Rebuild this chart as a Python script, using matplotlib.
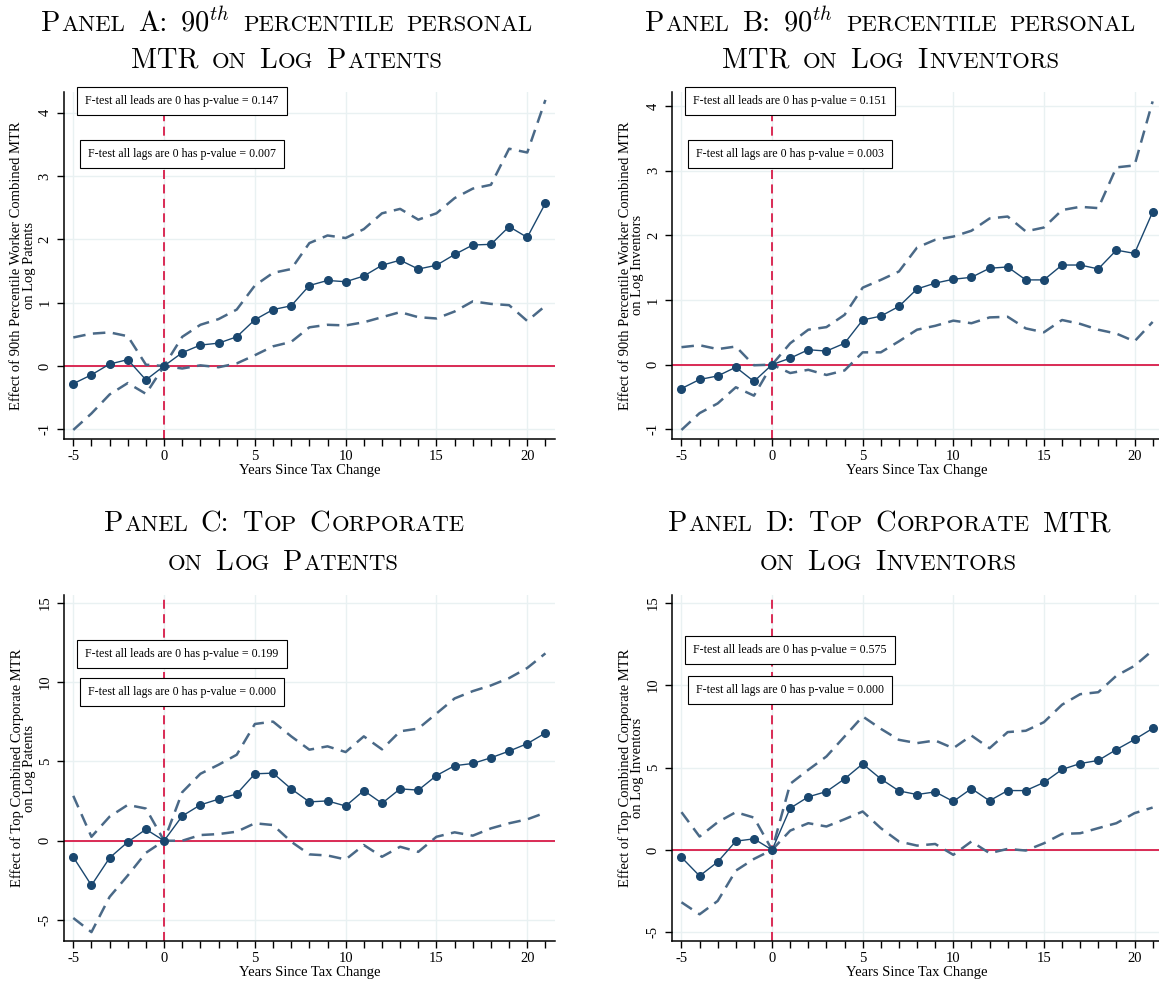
import matplotlib
matplotlib.use("Agg")
import matplotlib.pyplot as plt
from matplotlib.ticker import MultipleLocator
from matplotlib.transforms import IdentityTransform

plt.rcParams['font.family'] = ['Liberation Serif', 'DejaVu Serif']
plt.rcParams['axes.unicode_minus'] = False

years = list(range(-5, 22))

# Panel A: 90th pct personal MTR on log patents
a_coef = [-0.28, -0.14, 0.03, 0.10, -0.22, 0.0, 0.21, 0.33, 0.36, 0.46, 0.73, 0.89, 0.95, 1.27,
          1.35, 1.33, 1.42, 1.59, 1.67, 1.53, 1.59, 1.76, 1.91, 1.92, 2.20, 2.03, 2.57]
a_hi = [0.45, 0.51, 0.53, 0.47, 0.02, 0.0, 0.46, 0.65, 0.74, 0.89, 1.27, 1.47, 1.53, 1.94,
        2.06, 2.02, 2.16, 2.41, 2.48, 2.31, 2.41, 2.65, 2.80, 2.86, 3.43, 3.37, 4.20]
a_lo = [-1.01, -0.75, -0.45, -0.27, -0.44, 0.0, -0.04, 0.01, -0.02, 0.04, 0.17, 0.31, 0.38, 0.61,
        0.65, 0.64, 0.69, 0.77, 0.85, 0.77, 0.75, 0.86, 1.02, 0.98, 0.96, 0.71, 0.95]

# Panel B: 90th pct personal MTR on log inventors
b_coef = [-0.37, -0.23, -0.175, -0.04, -0.26, 0.0, 0.10, 0.23, 0.21, 0.33, 0.69, 0.75, 0.90, 1.17,
          1.26, 1.32, 1.35, 1.49, 1.51, 1.31, 1.31, 1.54, 1.54, 1.48, 1.77, 1.72, 2.36]
b_hi = [0.27, 0.30, 0.24, 0.28, -0.01, 0.0, 0.33, 0.54, 0.58, 0.77, 1.19, 1.31, 1.44, 1.81,
        1.93, 1.98, 2.07, 2.26, 2.29, 2.06, 2.12, 2.39, 2.44, 2.42, 3.05, 3.08, 4.07]
b_lo = [-1.01, -0.75, -0.60, -0.35, -0.48, 0.0, -0.13, -0.08, -0.16, -0.09, 0.19, 0.19, 0.36, 0.54,
        0.60, 0.68, 0.64, 0.73, 0.74, 0.56, 0.50, 0.69, 0.63, 0.54, 0.48, 0.36, 0.66]

# Panel C: top corporate MTR on log patents
c_coef = [-1.03, -2.81, -1.08, -0.08, 0.72, 0.0, 1.56, 2.26, 2.62, 2.95, 4.22, 4.26, 3.27, 2.45,
          2.51, 2.19, 3.16, 2.36, 3.27, 3.19, 4.11, 4.73, 4.87, 5.23, 5.65, 6.12, 6.79]
c_hi = [2.83, 0.25, 1.52, 2.26, 2.03, 0.0, 3.06, 4.22, 4.79, 5.42, 7.36, 7.51, 6.58, 5.74,
        5.95, 5.59, 6.58, 5.76, 6.90, 7.07, 8.02, 8.97, 9.43, 9.79, 10.25, 10.89, 11.81]
c_lo = [-4.87, -5.76, -3.54, -2.19, -0.76, 0.0, 0.0, 0.36, 0.42, 0.57, 1.10, 0.99, -0.06, -0.86,
        -0.93, -1.18, -0.27, -1.01, -0.38, -0.70, 0.25, 0.53, 0.32, 0.78, 1.10, 1.35, 1.77]

# Panel D: top corporate MTR on log inventors
d_coef = [-0.45, -1.58, -0.73, 0.53, 0.67, 0.0, 2.53, 3.22, 3.54, 4.31, 5.22, 4.31, 3.58, 3.36,
          3.52, 2.94, 3.72, 2.98, 3.60, 3.60, 4.09, 4.88, 5.24, 5.43, 6.09, 6.70, 7.37]
d_hi = [2.29, 0.81, 1.68, 2.29, 1.96, 0.0, 4.01, 4.86, 5.67, 6.88, 8.10, 7.35, 6.68, 6.48,
        6.64, 6.17, 6.94, 6.17, 7.15, 7.23, 7.75, 8.81, 9.45, 9.57, 10.57, 11.17, 12.11]
d_lo = [-3.18, -3.91, -3.10, -1.26, -0.55, 0.0, 1.17, 1.62, 1.42, 1.86, 2.33, 1.32, 0.51, 0.26,
        0.36, -0.30, 0.51, -0.20, 0.06, -0.04, 0.40, 0.97, 1.01, 1.32, 1.62, 2.23, 2.57]

p_leads = ['0.147', '0.151', '0.199', '0.575']
p_lags = ['0.007', '0.003', '0.000', '0.000']

titles = [
    ("Panel A: $90^{th}$ percentile personal", "MTR on Log Patents"),
    ("Panel B: $90^{th}$ percentile personal", "MTR on Log Inventors"),
    ("Panel C: Top Corporate", "on Log Patents"),
    ("Panel D: Top Corporate MTR", "on Log Inventors"),
]
ylabels = [
    "Effect of 90th Percentile Worker Combined MTR\non Log Patents",
    "Effect of 90th Percentile Worker Combined MTR\non Log Inventors",
    "Effect of Top Combined Corporate MTR\non Log Patents",
    "Effect of Top Combined Corporate MTR\non Log Inventors",
]

navy = '#1a476f'
ci_col = '#4a6987'
red = '#d81b48'
grid_col = '#e9f1f2'

W, H = 1159, 983
fig = plt.figure(figsize=(W / 100, H / 100), dpi=100)


def px_rect(x0, x1, ytop, ybot):
    return [x0 / W, 1 - ybot / H, (x1 - x0) / W, (ybot - ytop) / H]


def panel(rect, coef, hi, lo, ylim, yticks, ylabel, p1, p2, box_y):
    ax = fig.add_axes(rect)
    ax.set_xlim(-5.5, 21.5)
    ax.set_ylim(*ylim)
    ax.set_xticks([-5, 0, 5, 10, 15, 20])
    ax.xaxis.set_minor_locator(MultipleLocator(1))
    ax.set_yticks(yticks)
    ax.grid(True, color=grid_col, lw=1.0)
    ax.set_axisbelow(True)
    for s in ['top', 'right']:
        ax.spines[s].set_visible(False)
    for s in ['left', 'bottom']:
        ax.spines[s].set_linewidth(1.1)
    ax.tick_params(which='both', direction='out', length=5, width=1, labelsize=10.5)
    ax.tick_params(axis='x', pad=3)
    ax.tick_params(axis='y', labelrotation=90, pad=4)
    for t in ax.get_yticklabels():
        t.set_va('center')

    ax.axhline(0, color=red, lw=1.3, zorder=2)
    ax.axvline(0, color=red, lw=1.3, ls=(0, (5, 3)), zorder=2)
    ax.plot(years, hi, color=ci_col, lw=1.8, ls=(0, (5, 3)), zorder=3)
    ax.plot(years, lo, color=ci_col, lw=1.8, ls=(0, (5, 3)), zorder=3)
    ax.plot(years, coef, color=navy, lw=1.0, marker='o', ms=5.5, zorder=4)

    ax.text(-0.084, 0.5, ylabel, transform=ax.transAxes, rotation=90, ha='center',
            va='center', multialignment='center', fontsize=10.5, linespacing=0.95)
    ax.text(0.5, -0.09, "Years Since Tax Change", transform=ax.transAxes, ha='center',
            va='center', fontsize=10.5)

    for txt, yy in [("F-test all leads are 0 has p-value = " + p1, box_y[0]),
                    ("F-test all lags are 0 has p-value = " + p2, box_y[1])]:
        ax.text(0.24, yy, txt, transform=ax.transAxes, ha='center', va='center',
                fontsize=8.6, zorder=6,
                bbox=dict(boxstyle='square,pad=0.68', fc='white', ec='black', lw=0.8))
    return ax


panel(px_rect(64.2, 554.5, 91.7, 439), a_coef, a_hi, a_lo, (-1.153, 4.33), range(-1, 5),
      ylabels[0], p_leads[0], p_lags[0], (0.973, 0.821))
panel(px_rect(672.4, 1161.7, 91.7, 439), b_coef, b_hi, b_lo, (-1.15, 4.22), range(-1, 5),
      ylabels[1], p_leads[1], p_lags[1], (0.973, 0.821))
panel(px_rect(64.2, 554.5, 595, 941), c_coef, c_hi, c_lo, (-6.32, 15.49), range(-5, 16, 5),
      ylabels[2], p_leads[2], p_lags[2], (0.829, 0.720))
panel(px_rect(672.4, 1161.7, 595, 941), d_coef, d_hi, d_lo, (-5.53, 15.47), range(-5, 16, 5),
      ylabels[3], p_leads[3], p_lags[3], (0.841, 0.725))


# small-caps titles, faked by setting lower case letters as smaller capitals
renderer = fig.canvas.get_renderer()
BIG = 20.5
SMALL = BIG * 0.8


def split_runs(word):
    if word.startswith('$'):
        return [(word, BIG)]
    runs = []
    for ch in word:
        if ch.islower():
            piece, size = ch.upper(), SMALL
        else:
            piece, size = ch, BIG
        if runs and runs[-1][1] == size:
            runs[-1] = (runs[-1][0] + piece, size)
        else:
            runs.append((piece, size))
    return runs


def sc_line(cx, base_from_top, text):
    space = 0.42 * BIG * 100 / 72
    items = []
    for i, word in enumerate(text.split(' ')):
        for piece, size in split_runs(word):
            t = fig.text(0, 0, piece, fontsize=size, family='cmr10', math_fontfamily='cm',
                         ha='left', va='baseline', transform=IdentityTransform())
            w = t.get_window_extent(renderer).width
            items.append((t, w, i))
    total = sum(w for _, w, _ in items) + space * (len(text.split(' ')) - 1)
    x = cx - total / 2
    prev = 0
    for t, w, i in items:
        if i != prev:
            x += space
            prev = i
        t.set_position((x, H - base_from_top))
        x += w + 1.0


centers = [284, 888, 281, 886]
bases = [(31, 68), (31, 68), (531, 570), (531, 570)]
for (l1, l2), cx, (y1, y2) in zip(titles, centers, bases):
    sc_line(cx, y1, l1)
    sc_line(cx, y2, l2)

fig.savefig("out.png", dpi=100)
